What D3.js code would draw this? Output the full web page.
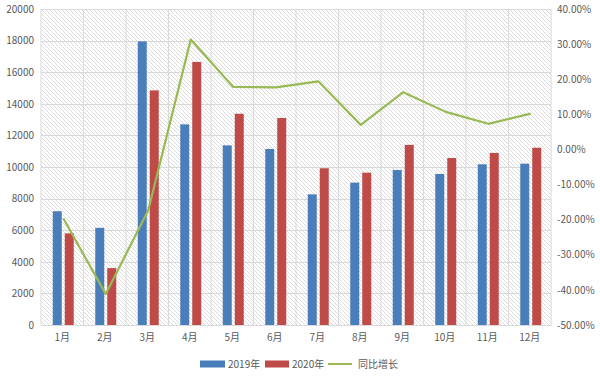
<!DOCTYPE html>
<html><head><meta charset="utf-8">
<script src="https://cdn.jsdelivr.net/npm/d3@7"></script>
<style>body{margin:0;background:#fff}svg{display:block}text{font-family:"Noto Sans CJK SC","Microsoft YaHei",sans-serif;fill:#595959}</style>
</head><body><svg id="c" width="600" height="378"></svg>
<script>
const months = ["1月","2月","3月","4月","5月","6月","7月","8月","9月","10月","11月","12月"];
const v2019 = [7200,6150,17950,12700,11370,11140,8270,9010,9810,9560,10170,10210];
const v2020 = [5800,3600,14850,16650,13370,13100,9920,9640,11400,10570,10890,11220];
const growth = [-19.6,-41.2,-17.3,31.3,17.8,17.7,19.4,7.0,16.3,10.7,7.3,10.2];
const leftTicks = [0,2000,4000,6000,8000,10000,12000,14000,16000,18000,20000];
const rightTicks = [-50,-40,-30,-20,-10,0,10,20,30,40];
const seriesNames = ["2019年","2020年","同比增长"];
const colors = ["#4a7ebb","#be4b48","#98b954"];

const svg = d3.select("#c");
const L=41,R=551,T=9,B=325;
const x = d3.scaleBand().domain(months).range([L,R]);
const y = d3.scaleLinear().domain([0,20000]).range([B,T]);
const y2 = d3.scaleLinear().domain([-50,40]).range([B,T]);

const defs = svg.append("defs");
const pat = defs.append("pattern").attr("id","hatch").attr("patternUnits","userSpaceOnUse")
  .attr("width",4).attr("height",4);
pat.append("path").attr("d","M-1,-1 L5,5 M-1,3 L1,5 M3,-1 L5,1").attr("stroke","#d3d3d3").attr("stroke-width",0.8);

svg.append("rect").attr("x",L).attr("y",T).attr("width",R-L).attr("height",B-T).attr("fill","url(#hatch)");

// grid
svg.append("g").selectAll("line").data(leftTicks).join("line")
  .attr("x1",L).attr("x2",R).attr("y1",d=>Math.round(y(d))+0.5).attr("y2",d=>Math.round(y(d))+0.5)
  .attr("stroke","#d9d9d9").attr("stroke-width",1);
svg.append("g").selectAll("line").data(months.concat(["end"])).join("line")
  .attr("x1",(d,i)=>i<12?x(d):R).attr("x2",(d,i)=>i<12?x(d):R)
  .attr("y1",T).attr("y2",B).attr("stroke","#d9d9d9");

// axes labels
const ax = d3.axisLeft(y).tickValues(leftTicks).tickSize(0).tickPadding(6).tickFormat(d3.format("d"));
const gl = svg.append("g").attr("transform",`translate(${L},0)`).call(ax);
gl.select(".domain").remove();
gl.selectAll("text").style("font-size","10px").attr("fill","#595959").attr("dx",-1);
const ax2 = d3.axisRight(y2).tickValues(rightTicks).tickSize(0).tickPadding(6).tickFormat(d=>d.toFixed(2)+"%");
const gr = svg.append("g").attr("transform",`translate(${R},0)`).call(ax2);
gr.select(".domain").remove();
gr.selectAll("text").style("font-size","10px").attr("fill","#595959");
const axb = d3.axisBottom(x).tickSize(0).tickPadding(9);
const gb = svg.append("g").attr("transform",`translate(0,${B})`).call(axb);
gb.select(".domain").attr("stroke","#d9d9d9");
gb.selectAll("text").style("font-size","10px").attr("fill","#595959");

// bars
const bw = 9, gap = 3;
const bars = svg.append("g");
bars.selectAll(".b1").data(v2019).join("rect").attr("class","b1")
  .attr("x",(d,i)=>x(months[i])+x.bandwidth()/2-gap/2-bw+1).attr("width",bw)
  .attr("y",d=>y(d)).attr("height",d=>B-y(d)).attr("fill",colors[0]);
bars.selectAll(".b2").data(v2020).join("rect").attr("class","b2")
  .attr("x",(d,i)=>x(months[i])+x.bandwidth()/2+gap/2+1).attr("width",bw)
  .attr("y",d=>y(d)).attr("height",d=>B-y(d)).attr("fill",colors[1]);

// line
const line = d3.line().x((d,i)=>x(months[i])+x.bandwidth()/2+1).y(d=>y2(d));
svg.append("path").datum(growth).attr("d",line).attr("fill","none")
  .attr("stroke",colors[2]).attr("stroke-width",2.2).attr("stroke-linejoin","round");

// legend
const lg = svg.append("g").attr("transform","translate(0,364)");
lg.append("rect").attr("x",200).attr("y",-3.5).attr("width",25).attr("height",7).attr("fill",colors[0]);
lg.append("text").attr("x",228).attr("y",4).style("font-size","10px").text(seriesNames[0]);
lg.append("rect").attr("x",265).attr("y",-3.5).attr("width",24).attr("height",7).attr("fill",colors[1]);
lg.append("text").attr("x",292).attr("y",4).style("font-size","10px").text(seriesNames[1]);
lg.append("line").attr("x1",328).attr("x2",352).attr("y1",0).attr("y2",0).attr("stroke",colors[2]).attr("stroke-width",2);
lg.append("text").attr("x",358).attr("y",4).style("font-size","10px").text(seriesNames[2]);
</script></body></html>
